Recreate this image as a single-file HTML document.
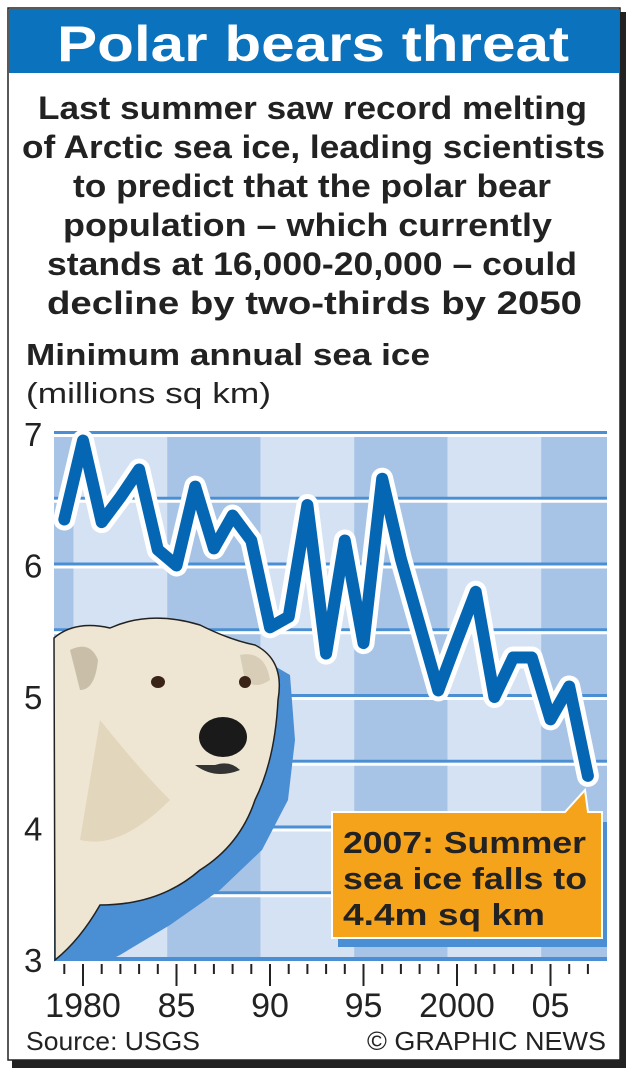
<!DOCTYPE html>
<html><head><meta charset="utf-8"><style>
body{margin:0;background:#fff;width:633px;height:1075px;overflow:hidden;font-family:"Liberation Sans",Arial,sans-serif}
svg text{font-family:"Liberation Sans",Arial,sans-serif}
</style></head><body>
<svg width="633" height="1075" viewBox="0 0 633 1075">
<rect x="0" y="0" width="633" height="1075" fill="#fff"/>
<rect x="12" y="12" width="614" height="1056" fill="#222"/>
<rect x="8" y="8" width="612" height="1052" fill="#fff" stroke="#222" stroke-width="1.5"/>
<rect x="9" y="9" width="610" height="64" fill="#0b72bd"/>
<text x="57" y="61" textLength="512" lengthAdjust="spacingAndGlyphs" font-size="50" font-weight="bold" fill="#fff">Polar bears threat</text>
<g font-size="32" font-weight="bold" fill="#222">
<text x="38" y="119" textLength="549" lengthAdjust="spacingAndGlyphs">Last summer saw record melting</text>
<text x="22" y="158" textLength="583" lengthAdjust="spacingAndGlyphs">of Arctic sea ice, leading scientists</text>
<text x="73" y="197" textLength="478" lengthAdjust="spacingAndGlyphs">to predict that the polar bear</text>
<text x="63" y="236" textLength="489" lengthAdjust="spacingAndGlyphs">population – which currently</text>
<text x="47" y="275" textLength="530" lengthAdjust="spacingAndGlyphs">stands at 16,000-20,000 – could</text>
<text x="47" y="314" textLength="535" lengthAdjust="spacingAndGlyphs">decline by two-thirds by 2050</text>
</g>
<text x="26" y="365" textLength="404" lengthAdjust="spacingAndGlyphs" font-size="31" font-weight="bold" fill="#222">Minimum annual sea ice</text>
<text x="26" y="403" textLength="245" lengthAdjust="spacingAndGlyphs" font-size="29" fill="#222">(millions sq km)</text>
<g id="chart"></g>
<text x="26" y="1050" textLength="174" lengthAdjust="spacingAndGlyphs" font-size="26" fill="#222">Source: USGS</text>
<text x="367" y="1050" textLength="239" lengthAdjust="spacingAndGlyphs" font-size="26" fill="#222">© GRAPHIC NEWS</text>
</svg>
<script>
const years=[1979,1980,1981,1982,1983,1984,1985,1986,1987,1988,1989,1990,1991,1992,1993,1994,1995,1996,1997,1998,1999,2000,2001,2002,2003,2004,2005,2006,2007];
const iceValues=[6.35,6.95,6.33,6.52,6.73,6.12,6.0,6.6,6.13,6.38,6.19,5.53,5.61,6.46,5.33,6.19,5.41,6.66,6.05,5.55,5.05,5.43,5.8,5.0,5.3,5.3,4.83,5.08,4.4];
const yTicks=[3,4,5,6,7];
const xTickLabels=["1980","85","90","95","2000","05"];
const xTickYears=[1980,1985,1990,1995,2000,2005];
const NS="http://www.w3.org/2000/svg";
const X0=54,X1=607,Y0=960;
function x(yr){return 83+(yr-1980)*18.7;}
function y(v){return Y0-(v-3)*131.5;}
const g=document.getElementById('chart');
function mk(t,a,p){const e=document.createElementNS(NS,t);for(const k in a)e.setAttribute(k,a[k]);(p||g).appendChild(e);return e;}
const bandEdges=[X0,x(1979.5),x(1984.5),x(1989.5),x(1994.5),x(1999.5),x(2004.5),X1];
for(let i=0;i<bandEdges.length-1;i++){
 const r=mk('rect',{x:bandEdges[i],y:y(7),width:bandEdges[i+1]-bandEdges[i],height:Y0-y(7),fill:i%2==0?'#a7c4e6':'#d5e2f4'});
 
 
}
for(let v=3.5;v<=7;v+=0.5){
 const b=mk('rect',{x:X0,y:y(v)-3,width:X1-X0,height:3,fill:'#4a8fd4'});
 
 
 mk('rect',{x:X0,y:y(v),width:X1-X0,height:3,fill:'#fff'});
}
mk('rect',{x:X0,y:Y0-3,width:X1-X0,height:4,fill:'#4a8fd4'});
yTicks.forEach(v=>{const t=mk('text',{x:24,y:y(v)+12,'font-size':33,fill:'#222'});t.textContent=v;
 
 });
for(let yr=1979;yr<=2007;yr++){
 const major=xTickYears.includes(yr);
 const tk=mk('line',{x1:x(yr),x2:x(yr),y1:Y0+4,y2:Y0+(major?26:14),stroke:'#222','stroke-width':2});
 
 
}
xTickYears.forEach((yr,i)=>{const t=mk('text',{x:x(yr),y:Y0+57,'font-size':34,'text-anchor':'middle',fill:'#222'});t.textContent=xTickLabels[i];
 
 });
const pts=years.map((yr,i)=>x(yr)+','+y(iceValues[i])).join(' ');
mk('polyline',{points:pts,fill:'none',stroke:'#fff','stroke-width':22,'stroke-linejoin':'round','stroke-linecap':'round'});
const ln=mk('polyline',{points:pts,fill:'none',stroke:'#0567b4','stroke-width':12,'stroke-linejoin':'round','stroke-linecap':'round'});


const sh=mk('path',{d:'M54 960 L54 640 L230 640 L290 675 L295 740 L288 800 L262 850 L220 890 L170 925 L120 955 L110 960 Z',fill:'#4a8fd4'});


const bear=mk('g',{});


mk('path',{d:'M54 638 Q75 620 110 628 Q150 610 200 625 Q230 640 255 645 Q285 660 278 700 Q275 760 255 800 Q240 845 200 870 Q160 905 100 905 Q80 940 55 960 Z',fill:'#eee6d2',stroke:'#222','stroke-width':1.5},bear);
mk('path',{d:'M70 650 Q90 640 98 660 Q95 690 80 690 Z',fill:'#c9bfa8'},bear);
mk('path',{d:'M240 655 Q265 650 270 680 Q255 690 245 680 Z',fill:'#d8cdb6'},bear);
mk('path',{d:'M100 720 Q140 770 170 800 Q120 850 80 840 Z',fill:'#e2d6bd'},bear);
mk('ellipse',{cx:158,cy:682,rx:7,ry:6,fill:'#3a2418'},bear);
mk('ellipse',{cx:245,cy:682,rx:6,ry:6,fill:'#3a2418'},bear);
mk('ellipse',{cx:223,cy:737,rx:24,ry:20,fill:'#1a1a1a'},bear);
mk('path',{d:'M195 765 Q215 780 240 770 Q230 760 215 765 Z',fill:'#333'},bear);
const co=mk('g',{});


mk('rect',{x:338,y:822,width:269,height:125,fill:'#4a8fd4'},co);
mk('path',{d:'M332 812 L565 812 L585 790 L588 812 L602 812 L602 938 L332 938 Z',fill:'#f6a31c',stroke:'#fff','stroke-width':2},co);
[['2007: Summer',853,243],['sea ice falls to',889,244],['4.4m sq km',925,202]].forEach(([s,yy,w])=>{const t=mk('text',{x:343,y:yy,'font-size':31,'font-weight':'bold',fill:'#222',textLength:w,lengthAdjust:'spacingAndGlyphs'},co);t.textContent=s;});
</script>
</body></html>
